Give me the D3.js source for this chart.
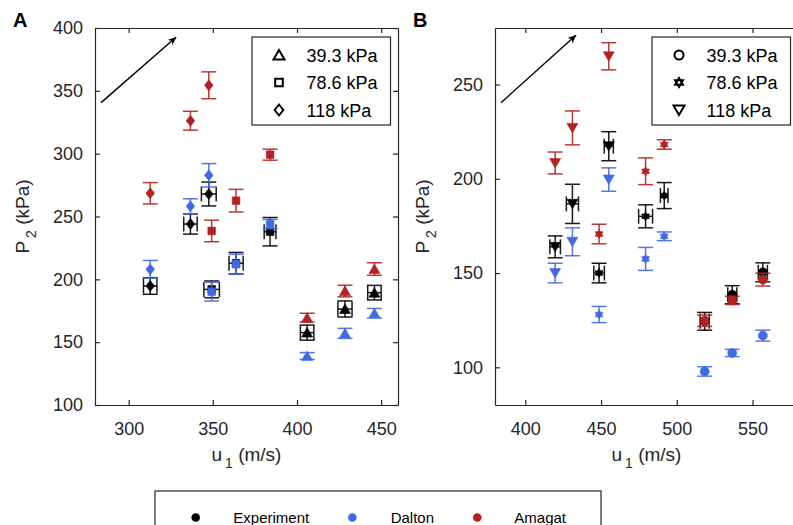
<!DOCTYPE html>
<html>
<head>
<meta charset="utf-8">
<script src="https://cdn.jsdelivr.net/npm/d3@7"></script>
<style>
  body { margin: 0; background: #fff; }
  text { font-family: "Liberation Sans", Arial, sans-serif; }
</style>
</head>
<body>
<div id="content"></div>
<script>
// categories
var pressures = ['39.3 kPa', '78.6 kPa', '118 kPa'];
var models = ['Experiment', 'Dalton', 'Amagat'];
var modelColors = ['#000000', '#4169e1', '#b22222'];

// panel A: u1 (m/s) for each pressure group (39.3, 78.6, 118 kPa)
var uA = [[406, 428.5, 446], [349.3, 363.8, 384], [312.8, 336.7, 347.6]];
var uErrA = [[4, 4.2, 4], [4.6, 4.2, 3.5], [4, 4, 4.4]];
var expA = [[157.6, 176.4, 189.4], [192, 212.8, 237.9], [194.7, 244, 267.9]];
var expErrA = [[6, 6.4, 5.8], [6.7, 8.6, 11.3], [6.6, 8, 9.5]];
var daltonA = [[139, 157, 173], [190.2, 212, 244], [208, 258.1, 282.8]];
var daltonErrA = [[2.7, 4, 3.8], [7.5, 8, 3.7], [7, 6, 9.3]];
var amagatA = [[169.5, 190.7, 208.2], [238.5, 262.6, 299.2], [268.5, 326.2, 354.4]];
var amagatErrA = [[3.5, 4.6, 5], [8.6, 9, 4.4], [8.5, 7.5, 10.7]];

// panel B
var uB = [[518.4, 536.6, 556.8], [448.7, 479.4, 491.7], [419.7, 431.1, 455.1]];
var uErrB = [[3, 3, 3], [3.5, 4.6, 2.5], [3.5, 4, 3]];
var expB = [[124.4, 138.5, 150.4], [150, 180.1, 191.1], [163.9, 186.7, 217.3]];
var expErrB = [[4.7, 4.8, 5], [5.2, 6.1, 6.9], [5.8, 10.4, 7.7]];
var daltonB = [[97.8, 107.6, 116.8], [128, 157.5, 169.5], [150, 166.6, 199.6]];
var daltonErrB = [[2.5, 1.9, 2.9], [4.3, 6.1, 2.3], [5.2, 7.4, 6.2]];
var amagatB = [[124.7, 135.5, 146.5], [170.7, 204, 218.2], [208.4, 227, 265]];
var amagatErrB = [[3, 2.2, 3.4], [5.2, 7.1, 2.5], [5.8, 9, 7.2]];

// ticks
var xTicksA = [300, 350, 400, 450], yTicksA = [100, 150, 200, 250, 300, 350, 400];
var xTicksB = [400, 450, 500, 550], yTicksB = [100, 150, 200, 250];

var width = 793, height = 525;
var svg = d3.select('#content').append('svg')
  .attr('width', width).attr('height', height);

var axisColor = '#262626';

svg.append('defs').append('marker')
  .attr('id', 'arrowhead')
  .attr('viewBox', '0 0 10 10')
  .attr('refX', 9).attr('refY', 5)
  .attr('markerWidth', 9).attr('markerHeight', 9)
  .attr('markerUnits', 'userSpaceOnUse')
  .attr('orient', 'auto')
  .append('path')
  .attr('d', 'M0,1 L10,5 L0,9 L3,5 Z')
  .attr('fill', '#000');

// marker shapes
function shape(name) {
  switch (name) {
    case 'triangle': return 'M0,-5L5.5,4.5L-5.5,4.5Z';
    case 'square': return 'M-3.8,-3.8H3.8V3.8H-3.8Z';
    case 'diamond': return 'M0,-5.5L4.3,0L0,5.5L-4.3,0Z';
    case 'circle': return d3.symbol(d3.symbolCircle, 64)();
    case 'hexagram':
      var r = 4.6, a = [];
      for (var i = 0; i < 6; i++) {
        var t = Math.PI / 2 + i * Math.PI / 3;
        a.push([r * Math.cos(t), -r * Math.sin(t)]);
      }
      return 'M' + a[0] + 'L' + a[2] + 'L' + a[4] + 'Z' +
             'M' + a[1] + 'L' + a[3] + 'L' + a[5] + 'Z';
    case 'invtriangle': return 'M0,5L5.5,-4.5L-5.5,-4.5Z';
  }
}

function panel(p) {
  var top = 28, bottom = 405;
  var x = d3.scaleLinear().domain(p.xDomain).range([p.left, p.right]);
  var y = d3.scaleLinear().domain(p.yDomain).range([bottom, top]);
  var g = svg.append('g');

  // axes, MATLAB style ticks pointing inward
  g.append('g').attr('transform', 'translate(0,' + bottom + ')')
    .call(d3.axisBottom(x).tickValues(p.xTicks).tickSize(-5).tickSizeOuter(0).tickPadding(17));
  g.append('g').attr('transform', 'translate(' + p.left + ',0)')
    .call(d3.axisLeft(y).tickValues(p.yTicks).tickSize(-5).tickSizeOuter(0).tickPadding(12));
  g.append('g').attr('transform', 'translate(0,' + top + ')')
    .call(d3.axisTop(x).tickValues(p.xTicks).tickSize(-5).tickSizeOuter(0).tickFormat(''));
  g.append('g').attr('transform', 'translate(' + p.right + ',0)')
    .call(d3.axisRight(y).tickValues(p.yTicks).tickSize(-5).tickSizeOuter(0).tickFormat(''));
  g.selectAll('.domain, .tick line').attr('stroke', axisColor).attr('stroke-width', 1.2);
  g.selectAll('.tick text').attr('fill', axisColor).style('font-size', '18px')
    .style('font-family', '"Liberation Sans", Arial, sans-serif');

  // axis titles
  var xt = g.append('text')
    .attr('x', (p.left + p.right) / 2).attr('y', 461)
    .attr('text-anchor', 'middle').attr('fill', axisColor).style('font-size', '19px');
  xt.append('tspan').text('u');
  xt.append('tspan').attr('dx', 3).attr('dy', 7).style('font-size', '14px').text('1');
  xt.append('tspan').attr('dy', -7).text(' (m/s)');

  var yt = g.append('text')
    .attr('transform', 'translate(' + (p.left - 66) + ',' + ((top + bottom) / 2) + ') rotate(-90)')
    .attr('text-anchor', 'middle').attr('fill', axisColor).style('font-size', '19px');
  yt.append('tspan').text('P');
  yt.append('tspan').attr('dx', 3).attr('dy', 7).style('font-size', '14px').text('2');
  yt.append('tspan').attr('dy', -7).text(' (kPa)');

  // panel letter
  g.append('text').attr('x', p.left - 82).attr('y', 27)
    .style('font-size', '20px').style('font-weight', 'bold').text(p.letter);

  // arrow
  g.append('line')
    .attr('x1', x(p.arrow[0])).attr('y1', y(p.arrow[1]))
    .attr('x2', x(p.arrow[2])).attr('y2', y(p.arrow[3]))
    .attr('stroke', '#000').attr('stroke-width', 1.4)
    .attr('marker-end', 'url(#arrowhead)');

  // data: experiment, dalton, amagat
  var series = [[p.exp, p.expErr], [p.dalton, p.daltonErr], [p.amagat, p.amagatErr]];
  var cap = 7.5;
  series.forEach(function (s, m) {
    var col = modelColors[m];
    var sg = g.append('g');
    p.u.forEach(function (us, k) {
      us.forEach(function (u, i) {
        var v = s[0][k][i], e = s[1][k][i];
        var cx = x(u), cy = y(v);
        var eg = sg.append('g').attr('stroke', col).attr('stroke-width', 1.5)
          .attr('stroke-opacity', 0.9);
        eg.append('line').attr('x1', cx).attr('x2', cx).attr('y1', y(v - e)).attr('y2', y(v + e));
        eg.append('line').attr('x1', cx - cap).attr('x2', cx + cap).attr('y1', y(v - e)).attr('y2', y(v - e));
        eg.append('line').attr('x1', cx - cap).attr('x2', cx + cap).attr('y1', y(v + e)).attr('y2', y(v + e));
        if (m === 0) {
          var ue = p.uErr[k][i];
          eg.append('line').attr('x1', x(u - ue)).attr('x2', x(u + ue)).attr('y1', cy).attr('y2', cy);
          eg.append('line').attr('x1', x(u - ue)).attr('x2', x(u - ue)).attr('y1', cy - cap).attr('y2', cy + cap);
          eg.append('line').attr('x1', x(u + ue)).attr('x2', x(u + ue)).attr('y1', cy - cap).attr('y2', cy + cap);
        }
        sg.append('path').attr('d', shape(p.shapes[k]))
          .attr('transform', 'translate(' + cx + ',' + cy + ')')
          .attr('fill', col).attr('stroke', col).attr('stroke-width', 0.6);
      });
    });
  });

  // pressure legend
  var lx = p.right - 146, ly = 37;
  g.append('rect').attr('x', lx).attr('y', ly).attr('width', 138.5).attr('height', 88)
    .attr('fill', '#fff').attr('stroke', axisColor).attr('stroke-width', 1.2);
  pressures.forEach(function (name, k) {
    var ry = ly + 18 + k * 27.5;
    g.append('path').attr('d', shape(p.shapes[k]))
      .attr('transform', 'translate(' + (lx + 27) + ',' + ry + ')')
      .attr('fill', '#fff').attr('stroke', '#000').attr('stroke-width', 2);
    g.append('text').attr('x', lx + 54.5).attr('y', ry + 6.5)
      .style('font-size', '18px').attr('fill', '#000').text(name);
  });
}

panel({
  letter: 'A', left: 95, right: 398, xDomain: [280, 460], yDomain: [100, 400],
  xTicks: xTicksA, yTicks: yTicksA,
  arrow: [283.6, 340.6, 328.1, 392.6],
  shapes: ['triangle', 'square', 'diamond'],
  u: uA, uErr: uErrA, exp: expA, expErr: expErrA,
  dalton: daltonA, daltonErr: daltonErrA, amagat: amagatA, amagatErr: amagatErrA
});

panel({
  letter: 'B', left: 495, right: 798, xDomain: [380, 580], yDomain: [80, 280],
  xTicks: xTicksB, yTicks: yTicksB,
  arrow: [384, 240.4, 433.4, 276.1],
  shapes: ['circle', 'hexagram', 'invtriangle'],
  u: uB, uErr: uErrB, exp: expB, expErr: expErrB,
  dalton: daltonB, daltonErr: daltonErrB, amagat: amagatB, amagatErr: amagatErrB
});

// model legend at the bottom
var lg = svg.append('g');
lg.append('rect').attr('x', 155).attr('y', 491).attr('width', 446).attr('height', 50)
  .attr('fill', '#fff').attr('stroke', axisColor).attr('stroke-width', 1.2);
var legendDotX = [195.7, 352.3, 477.3];
var legendTextX = [233.3, 390.7, 514.3];
models.forEach(function (name, m) {
  lg.append('circle').attr('cx', legendDotX[m]).attr('cy', 517.5).attr('r', 4.3)
    .attr('fill', modelColors[m]);
  lg.append('text').attr('x', legendTextX[m]).attr('y', 522.5)
    .style('font-size', '15px').attr('fill', '#000').text(name);
});
</script>
</body>
</html>
